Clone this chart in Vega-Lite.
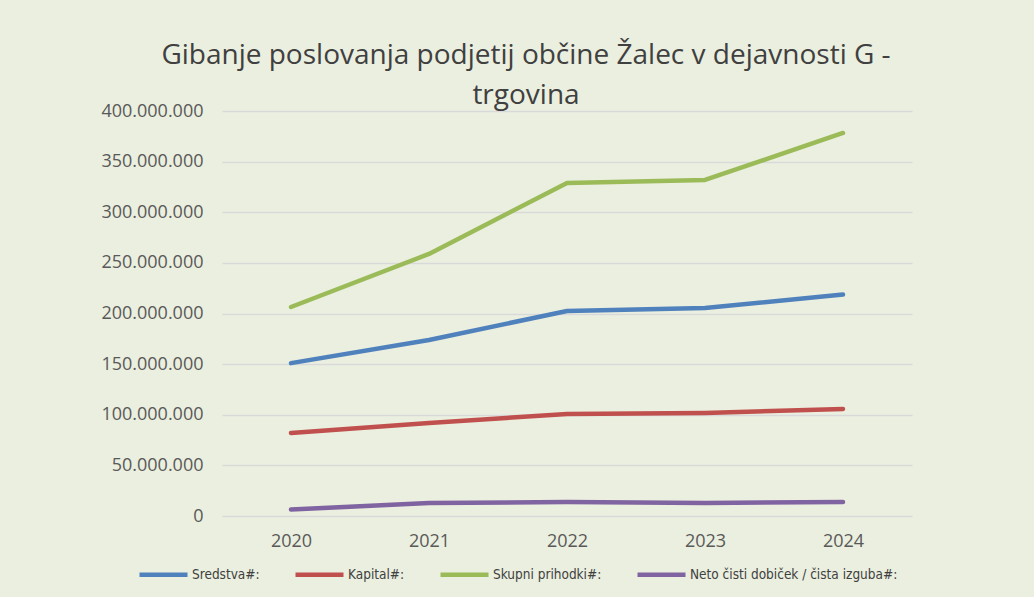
{
  "$schema": "https://vega.github.io/schema/vega-lite/v6.json",
  "width": 690,
  "height": 405,
  "autosize": {"type": "none"},
  "padding": {"left": 222, "top": 111, "right": 122, "bottom": 81},
  "background": "#EBEFDF",
  "config": {
    "locale": {"number": {"decimal": ",", "thousands": ".", "grouping": [3], "currency": ["", " €"]}},
    "view": {"stroke": null},
    "font": "Open Sans"
  },
  "title": {
    "text": ["Gibanje poslovanja podjetij občine Žalec v dejavnosti G -", "trgovina"],
    "fontSize": 28,
    "fontWeight": "normal",
    "font": "Open Sans",
    "color": "#404040",
    "anchor": "middle",
    "dx": -41,
    "lineHeight": 40,
    "offset": -8
  },
  "data": {
    "values": [
      {"leto": "2020", "serija": "Sredstva#:", "vrednost": 151000000},
      {"leto": "2021", "serija": "Sredstva#:", "vrednost": 173800000},
      {"leto": "2022", "serija": "Sredstva#:", "vrednost": 202500000},
      {"leto": "2023", "serija": "Sredstva#:", "vrednost": 205400000},
      {"leto": "2024", "serija": "Sredstva#:", "vrednost": 218800000},
      {"leto": "2020", "serija": "Kapital#:", "vrednost": 82000000},
      {"leto": "2021", "serija": "Kapital#:", "vrednost": 91900000},
      {"leto": "2022", "serija": "Kapital#:", "vrednost": 100700000},
      {"leto": "2023", "serija": "Kapital#:", "vrednost": 101700000},
      {"leto": "2024", "serija": "Kapital#:", "vrednost": 105700000},
      {"leto": "2020", "serija": "Skupni prihodki#:", "vrednost": 206400000},
      {"leto": "2021", "serija": "Skupni prihodki#:", "vrednost": 258800000},
      {"leto": "2022", "serija": "Skupni prihodki#:", "vrednost": 328900000},
      {"leto": "2023", "serija": "Skupni prihodki#:", "vrednost": 331900000},
      {"leto": "2024", "serija": "Skupni prihodki#:", "vrednost": 378300000},
      {"leto": "2020", "serija": "Neto čisti dobiček / čista izguba#:", "vrednost": 6400000},
      {"leto": "2021", "serija": "Neto čisti dobiček / čista izguba#:", "vrednost": 12800000},
      {"leto": "2022", "serija": "Neto čisti dobiček / čista izguba#:", "vrednost": 13800000},
      {"leto": "2023", "serija": "Neto čisti dobiček / čista izguba#:", "vrednost": 12800000},
      {"leto": "2024", "serija": "Neto čisti dobiček / čista izguba#:", "vrednost": 13800000}
    ]
  },
  "mark": {"type": "line", "strokeWidth": 4.5, "strokeCap": "round", "strokeJoin": "round"},
  "encoding": {
    "x": {
      "field": "leto",
      "type": "ordinal",
      "scale": {"type": "point", "padding": 0.5},
      "axis": {
        "title": null,
        "labelAngle": 0,
        "domain": false,
        "ticks": false,
        "labelFontSize": 18,
        "labelColor": "#595959",
        "labelPadding": 16,
        "labelFont": "Open Sans"
      }
    },
    "y": {
      "field": "vrednost",
      "type": "quantitative",
      "scale": {"domain": [0, 400000000], "nice": false},
      "axis": {
        "title": null,
        "values": [0, 50000000, 100000000, 150000000, 200000000, 250000000, 300000000, 350000000, 400000000],
        "format": ",d",
        "domain": false,
        "ticks": false,
        "grid": true,
        "gridColor": "#D9D9D9",
        "gridWidth": 1.5,
        "labelFontSize": 18,
        "labelColor": "#595959",
        "labelPadding": 19,
        "labelFont": "Open Sans"
      }
    },
    "color": {
      "field": "serija",
      "type": "nominal",
      "scale": {
        "domain": ["Sredstva#:", "Kapital#:", "Skupni prihodki#:", "Neto čisti dobiček / čista izguba#:"],
        "range": ["#4F81BD", "#C0504D", "#9BBB59", "#8064A2"]
      },
      "legend": {
        "title": null,
        "orient": "none",
        "direction": "horizontal",
        "legendX": -85,
        "legendY": 437,
        "symbolType": "stroke",
        "symbolSize": 2304,
        "symbolStrokeWidth": 4.5,
        "labelOffset": 2,
        "columnPadding": 26,
        "labelFontSize": 13.5,
        "labelFont": "DejaVu Sans Condensed",
        "labelColor": "#404040",
        "labelLimit": 400
      }
    }
  }
}
